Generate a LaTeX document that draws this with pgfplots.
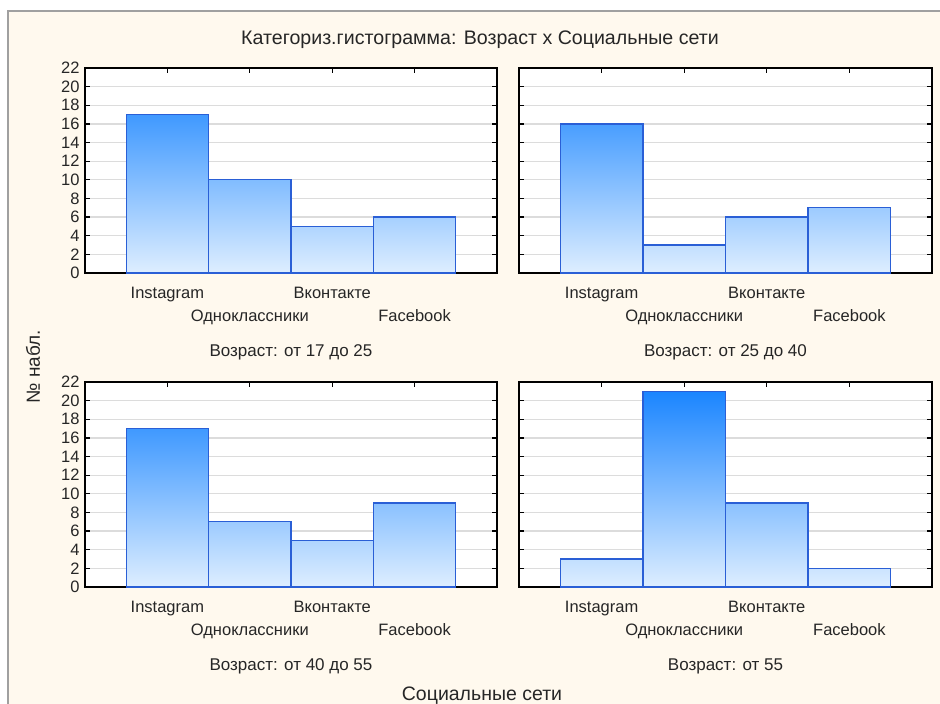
\documentclass[border=0pt]{standalone}
\usepackage{pgfplots}
\pgfplotsset{compat=1.18}
\usepackage{fontspec}
\setmainfont{Liberation Sans}
\definecolor{cream}{HTML}{FFF9EE}
\definecolor{framegray}{HTML}{A0A0A0}
\definecolor{barlo}{HTML}{DEEEFF}
\definecolor{barhi}{HTML}{1180FF}
\definecolor{barline}{HTML}{2A5FD6}
\definecolor{gridgray}{HTML}{DCDCDC}

\pgfplotsset{
  panel/.style={
    scale only axis, width=412pt, height=205pt, anchor=south west,
    xmin=0, xmax=5, ymin=0, ymax=22,
    ytick={0,2,...,22},
    xtick={1,3}, xticklabels={Instagram,Вконтакте},
    extra x ticks={2,4}, extra x tick labels={Одноклассники,Facebook},
    extra x tick style={xticklabel style={yshift=-22pt}},
    tick align=inside, major tick length=5pt,
    tick style={black, line width=1.2pt},
    ymajorgrids, grid style={gridgray, line width=1.2pt},
    axis line style={black, line width=1.4pt},
    axis background/.style={fill=white},
    /pgf/number format/assume math mode=true,
    tick label style={font=\fontsize{16.5}{18}\selectfont, text=black!85},
    xticklabel style={anchor=north, yshift=-11pt},
    yticklabel style={anchor=east, xshift=-2pt},
    x label style={at={(axis description cs:0.5,-0.385)}, anchor=center,
      font=\fontsize{17}{20}\selectfont, text=black!85},
  },
  bars/.style={ybar, bar width=1, draw=barline, line width=1.3pt,
    path picture={\path[path picture={}, draw=none, bottom color=barlo, top color=barhi]
      (rel axis cs:0,0) rectangle (rel axis cs:1,1);}},
}

\begin{document}
\begin{tikzpicture}
% page background and frame
\fill[white] (0pt,0pt) rectangle (940pt,-704pt);
\fill[cream] (8pt,-11pt) rectangle (940pt,-704pt);
\draw[framegray, line width=1.2pt] (8pt,-704pt) -- (8pt,-11pt) -- (940pt,-11pt);

\node[font=\fontsize{19.6}{22}\selectfont, text=black!85] at (480pt,-40pt)
  {Категориз.гистограмма: Возраст x Социальные сети};
\node[font=\fontsize{19}{22}\selectfont, text=black!85, rotate=90] at (33pt,-367pt) {№ набл.};
\node[font=\fontsize{19.5}{22}\selectfont, text=black!85] at (482pt,-696pt) {Социальные сети};

\begin{axis}[panel, at={(85pt,-273pt)}, xlabel={Возраст: от 17 до 25}]
\addplot[bars] coordinates {(1,17) (2,10) (3,5) (4,6)};
\end{axis}

\begin{axis}[panel, at={(519pt,-273pt)}, width=413pt, xlabel={Возраст: от 25 до 40}, yticklabels={}]
\addplot[bars] coordinates {(1,16) (2,3) (3,6) (4,7)};
\end{axis}

\begin{axis}[panel, at={(85pt,-587pt)}, xlabel={Возраст: от 40 до 55}]
\addplot[bars] coordinates {(1,17) (2,7) (3,5) (4,9)};
\end{axis}

\begin{axis}[panel, at={(519pt,-587pt)}, width=413pt, xlabel={Возраст: от 55}, yticklabels={}]
\addplot[bars] coordinates {(1,3) (2,21) (3,9) (4,2)};
\end{axis}

\pgfresetboundingbox
\useasboundingbox (0pt,0pt) rectangle (940pt,-704pt);
\end{tikzpicture}
\end{document}
